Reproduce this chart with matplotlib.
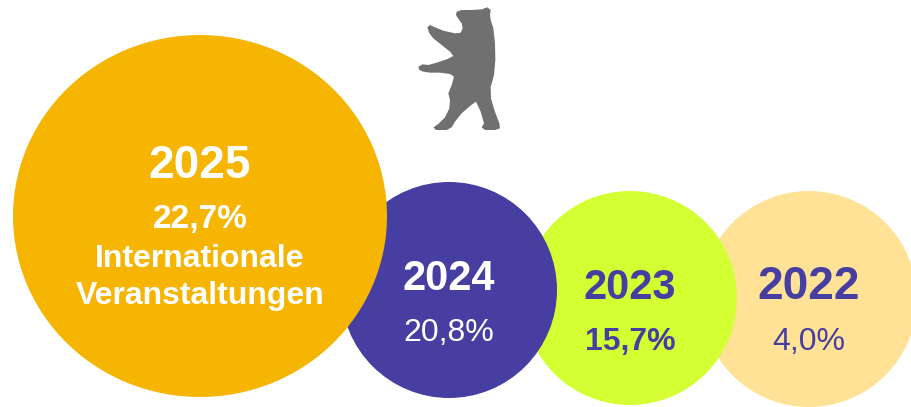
import matplotlib.pyplot as plt
from matplotlib.patches import Circle, Ellipse, Polygon

plt.rcParams["font.family"] = ["Liberation Sans", "DejaVu Sans"]

# data
years = ["2025", "2024", "2023", "2022"]
shares = ["22,7%", "20,8%", "15,7%", "4,0%"]
subtitle = "Internationale\nVeranstaltungen"
fill_colors = ["#F5B502", "#463EA0", "#D4FF32", "#FFE295"]
text_colors = ["white", "white", "#463EA0", "#463EA0"]

# layout in pixel units (bubbles are decorative, not scaled by value)
centers = [(200, 216), (449, 290), (630, 298), (809, 299)]
radii = [(187, 181), (108, 108), (107, 107), (108, 108)]
year_base = [178, 290, 299, 299]
share_base = [228, 341, 350, 350]
year_size = [33, 30, 30, 33]
share_size = [24, 23, 23, 23]
share_weight = ["bold", "normal", "bold", "normal"]
zorders = [4, 3, 2, 1]

BEAR = [
    (168, 45), (170, 35), (185, 30), (215, 30), (245, 28), (262, 22), (272, 30),
    (270, 45), (272, 60), (280, 85), (285, 130), (286, 180), (282, 225),
    (272, 262), (273, 295), (283, 330), (298, 370), (300, 385), (285, 390),
    (255, 390), (245, 382), (252, 370), (242, 335), (228, 305), (210, 318),
    (185, 340), (165, 365), (155, 382), (140, 390), (108, 390), (100, 382),
    (115, 372), (135, 352), (148, 325), (150, 300), (145, 280), (155, 255),
    (162, 230), (150, 222), (120, 218), (90, 218), (70, 215), (58, 210),
    (55, 200), (68, 193), (85, 195), (110, 188), (140, 178), (160, 168),
    (150, 155), (125, 135), (100, 115), (88, 100), (82, 82), (90, 75),
    (105, 82), (130, 92), (165, 100), (182, 98), (188, 85), (185, 70),
    (178, 60), (172, 52),
]

fig = plt.figure(figsize=(9.12, 4.07), dpi=100)
ax = fig.add_axes([0, 0, 1, 1])
ax.set_xlim(0, 912)
ax.set_ylim(407, 0)
ax.set_aspect("equal")
ax.axis("off")

for i, yr in enumerate(years):
    cx, cy = centers[i]
    rx, ry = radii[i]
    if rx == ry:
        patch = Circle((cx, cy), rx, color=fill_colors[i], lw=0, zorder=zorders[i])
    else:
        patch = Ellipse((cx, cy), 2 * rx, 2 * ry, color=fill_colors[i], lw=0, zorder=zorders[i])
    ax.add_patch(patch)
    ax.text(cx, year_base[i], yr, ha="center", va="baseline", fontsize=year_size[i],
            fontweight="bold", color=text_colors[i], zorder=10)
    ax.text(cx, share_base[i], shares[i], ha="center", va="baseline", fontsize=share_size[i],
            fontweight=share_weight[i], color=text_colors[i], zorder=10)

# subtitle in the big bubble
ax.text(centers[0][0], 267, subtitle.split("\n")[0], ha="center", va="baseline",
        fontsize=23, fontweight="bold", color="white", zorder=10)
ax.text(centers[0][0], 304, subtitle.split("\n")[1], ha="center", va="baseline",
        fontsize=23, fontweight="bold", color="white", zorder=10)

# Berlin bear icon
bear = [(400 + x / 3, y / 3) for x, y in BEAR]
ax.add_patch(Polygon(bear, closed=True, color="#707070", lw=0, zorder=5))

fig.savefig("out.png", dpi=100)
